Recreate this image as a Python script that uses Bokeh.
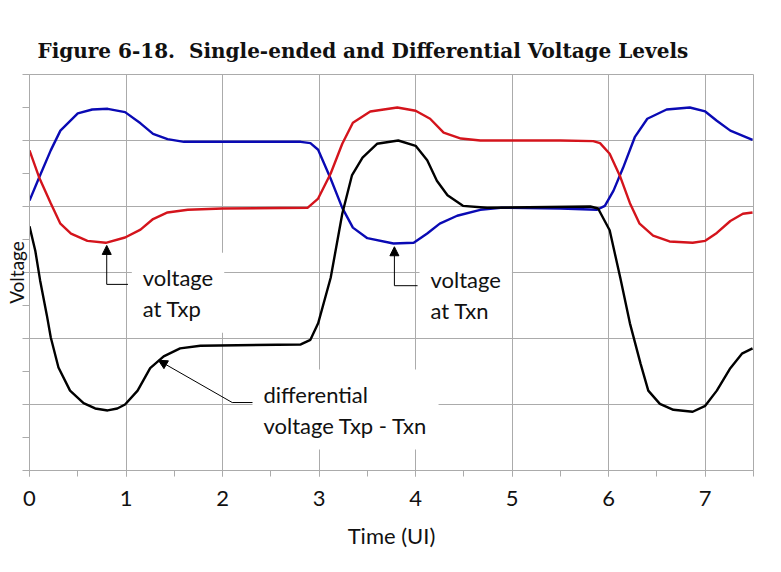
from bokeh.plotting import figure
from bokeh.models import Range1d, Label, Arrow, NormalHead, FixedTicker, Title
from bokeh.embed import file_html
from bokeh.resources import INLINE

# ---- data (time in UI, voltage in grid units) ----
txp_t = [0.00, 0.10, 0.22, 0.32, 0.43, 0.60, 0.79, 0.99, 1.15, 1.28, 1.43, 1.64, 2.00, 2.88,
         2.99, 3.12, 3.24, 3.35, 3.53, 3.81, 4.00, 4.15, 4.29, 4.47, 4.67, 5.50, 5.84, 5.91,
         6.01, 6.12, 6.22, 6.32, 6.46, 6.63, 6.87, 7.00, 7.12, 7.26, 7.39, 7.49]
txp_v = [4.85, 4.44, 4.05, 3.74, 3.59, 3.48, 3.45, 3.53, 3.65, 3.81, 3.91, 3.95, 3.97, 3.98,
         4.12, 4.50, 4.95, 5.27, 5.44, 5.50, 5.45, 5.33, 5.12, 5.03, 5.00, 5.00, 4.99, 4.96,
         4.80, 4.45, 4.05, 3.74, 3.56, 3.47, 3.45, 3.48, 3.60, 3.78, 3.89, 3.91]

txn_t = [0.00, 0.10, 0.22, 0.32, 0.50, 0.65, 0.81, 0.99, 1.15, 1.28, 1.43, 1.60, 2.00, 2.81,
         2.91, 2.99, 3.12, 3.24, 3.35, 3.50, 3.77, 3.98, 4.12, 4.25, 4.43, 4.67, 4.88, 5.50,
         5.88, 5.96, 6.05, 6.15, 6.27, 6.40, 6.60, 6.84, 7.00, 7.12, 7.26, 7.49]
txn_v = [4.09, 4.44, 4.85, 5.15, 5.41, 5.47, 5.48, 5.43, 5.26, 5.10, 5.02, 4.98, 4.98, 4.98,
         4.96, 4.86, 4.42, 3.98, 3.68, 3.52, 3.44, 3.45, 3.59, 3.74, 3.86, 3.95, 3.98, 3.97,
         3.95, 4.01, 4.24, 4.59, 5.05, 5.33, 5.47, 5.50, 5.44, 5.30, 5.15, 5.01]

diff_t = [0.00, 0.06, 0.11, 0.18, 0.22, 0.30, 0.42, 0.56, 0.68, 0.81, 0.91, 0.99, 1.12, 1.25,
          1.39, 1.56, 1.77, 2.81, 2.91, 2.99, 3.12, 3.24, 3.34, 3.45, 3.60, 3.82, 4.00, 4.12,
          4.22, 4.33, 4.49, 4.74, 5.81, 5.89, 6.01, 6.12, 6.22, 6.33, 6.41, 6.53, 6.67, 6.87,
          7.00, 7.12, 7.26, 7.38, 7.49]
diff_v = [3.70, 3.33, 2.88, 2.35, 2.02, 1.56, 1.21, 1.02, 0.94, 0.91, 0.94, 1.00, 1.21, 1.55,
          1.73, 1.85, 1.89, 1.91, 1.98, 2.23, 2.92, 3.89, 4.47, 4.74, 4.95, 5.00, 4.92, 4.70,
          4.39, 4.17, 4.01, 3.98, 4.00, 3.97, 3.64, 2.92, 2.23, 1.62, 1.21, 1.01, 0.92, 0.89,
          0.98, 1.21, 1.55, 1.77, 1.85]

x_ticks = [0, 1, 2, 3, 4, 5, 6, 7]
x_tick_labels = ["0", "1", "2", "3", "4", "5", "6", "7"]
y_grid = [0, 1, 2, 3, 4, 5, 6]

title_text = "Figure 6-18.\u00a0 Single-ended and Differential Voltage Levels"
x_label = "Time (UI)"
y_label = "Voltage"

GRID = "#ababab"
FONT = "Lato"
INK = "#111111"

p = figure(width=781, height=572, output_backend="svg", toolbar_location=None,
           x_range=Range1d(0, 7.5), y_range=Range1d(0, 6),
           min_border_left=29, min_border_right=28, min_border_top=74, min_border_bottom=102)

p.title.text = title_text
p.title.text_font = "DejaVu Serif"
p.title.text_font_style = "bold"
p.title.text_font_size = "20px"
p.title.text_color = INK
p.title.offset = 8
p.title.vertical_align = "top"
p.title.standoff = 20

# invisible spacer between the title and the plot frame (nothing is drawn)
p.add_layout(Title(text=" ", text_color=None, text_font_size="2px", standoff=24), "above")

p.outline_line_color = GRID
p.outline_line_width = 1
p.background_fill_color = "white"
p.border_fill_color = "white"

xa = p.below[0]
ya = p.left[0]

# x axis
xa.ticker = FixedTicker(ticks=x_ticks, minor_ticks=[i * 0.5 for i in range(16)])
xa.major_label_overrides = {t: l for t, l in zip(x_ticks, x_tick_labels)}
xa.axis_label = x_label
xa.axis_label_text_font = FONT
xa.axis_label_text_font_style = "normal"
xa.axis_label_text_font_size = "22px"
xa.axis_label_text_color = INK
xa.axis_label_standoff = 13
xa.major_label_text_font = FONT
xa.major_label_text_font_size = "22px"
xa.major_label_text_color = INK
xa.major_label_standoff = 14
for ax in (xa, ya):
    ax.axis_line_color = GRID
    ax.major_tick_line_color = GRID
    ax.minor_tick_line_color = GRID
    ax.major_tick_in = 0
    ax.minor_tick_in = 0
xa.major_tick_out = 6
xa.minor_tick_out = 6

# y axis: unlabeled ticks every half grid step
ya.ticker = FixedTicker(ticks=[], minor_ticks=[i * 0.5 for i in range(13)])
ya.minor_tick_out = 7
ya.axis_label = y_label
ya.axis_label_text_font = FONT
ya.axis_label_text_font_style = "normal"
ya.axis_label_text_font_size = "19px"
ya.axis_label_text_color = INK
ya.axis_label_standoff = -5

p.xgrid.ticker = FixedTicker(ticks=x_ticks)
p.ygrid.ticker = FixedTicker(ticks=y_grid)
for g in (p.xgrid, p.ygrid):
    g.grid_line_color = GRID
    g.grid_line_width = 1

# curves
p.line(txn_t, txn_v, line_color="#0a0ab4", line_width=2.4)
p.line(txp_t, txp_v, line_color="#d4141c", line_width=2.4)
p.line(diff_t, diff_v, line_color="black", line_width=2.4)

# callout texts with white boxes
def callout(x, y, txt):
    p.add_layout(Label(x=x, y=y, text=txt, text_align="left", text_baseline="top",
                       text_font=FONT, text_font_size="22px", text_color=INK,
                       text_line_height=1.15,
                       background_fill_color="white", padding=11))

callout(1.06, 3.30, "voltage\nat Txp")
callout(4.04, 3.27, "voltage\nat Txn")
callout(2.31, 1.53, "differential\nvoltage Txp - Txn")

# arrows and leader lines
lead = dict(line_color="black", line_width=1)
p.add_layout(Arrow(end=NormalHead(size=9, fill_color="black", line_color="black"),
                   x_start=0.80, y_start=2.82, x_end=0.80, y_end=3.41, **lead))
p.segment(x0=[0.80], y0=[2.82], x1=[1.02], y1=[2.82], **lead)
p.add_layout(Arrow(end=NormalHead(size=9, fill_color="black", line_color="black"),
                   x_start=3.78, y_start=2.80, x_end=3.78, y_end=3.39, **lead))
p.segment(x0=[3.78], y0=[2.80], x1=[4.02], y1=[2.80], **lead)
p.add_layout(Arrow(end=NormalHead(size=9, fill_color="black", line_color="black"),
                   x_start=2.10, y_start=1.03, x_end=1.335, y_end=1.67, **lead))
p.segment(x0=[2.10], y0=[1.03], x1=[2.32], y1=[1.03], **lead)

open("out.html", "w").write(file_html(p, INLINE))
